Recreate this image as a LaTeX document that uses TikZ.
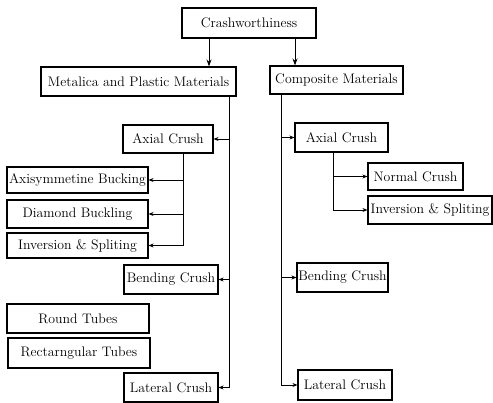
\documentclass[tikz,border=0pt]{standalone}
\usepackage{amsmath}
\usepackage{tikz}
\usetikzlibrary{arrows.meta}

\begin{document}
\begin{tikzpicture}[x = 1pt, y = -1pt, line width = 1.1pt,
                    box/.style = {draw, rectangle, inner sep = 0pt, font = \fontsize{13.8}{16}\selectfont},
                    arr/.style = {line width = 0.8pt, -{Stealth[length = 5pt, width = 4pt]}},
                    big/.style = {line width = 1pt, -{Stealth[length = 7pt, width = 5pt]}}]
  \useasboundingbox (0,0) rectangle (493,403);
  \node [box, minimum width = 134pt, minimum height = 30pt] (T0) at (249,23) {Crashworthiness};
  \node [box, minimum width = 195pt, minimum height = 29pt] (M0) at (138.5,81.5) {Metalica and Plastic Materials};
  \node [box, minimum width = 133pt, minimum height = 28pt] (C0) at (336.5,80) {Composite Materials};

  \node [box, minimum width = 90pt, minimum height = 28pt] (M1) at (168,139) {Axial Crush};
  \node [box, minimum width = 141pt, minimum height = 26pt] (M11) at (77.5,180) {Axisymmetine Bucking};
  \node [box, minimum width = 141pt, minimum height = 28pt] (M12) at (77.5,214) {Diamond Buckling};
  \node [box, minimum width = 141pt, minimum height = 25pt] (M13) at (77.5,245.5) {Inversion \& Spliting};
  \node [box, minimum width = 94pt, minimum height = 29pt] (M2) at (171,279.5) {Bending Crush};
  \node [box, minimum width = 142pt, minimum height = 29pt] (M21) at (78,318.5) {Round Tubes};
  \node [box, minimum width = 142pt, minimum height = 30pt] (M22) at (79,353) {Rectarngular Tubes};
  \node [box, minimum width = 94pt, minimum height = 29pt] (M3) at (171,387.5) {Lateral Crush};

  \node [box, minimum width = 93pt, minimum height = 29pt] (C1) at (341.5,137.5) {Axial Crush};
  \node [box, minimum width = 95pt, minimum height = 27pt] (C11) at (415.5,176.5) {Normal Crush};
  \node [box, minimum width = 124pt, minimum height = 28pt] (C12) at (430,210) {Inversion \& Spliting};
  \node [box, minimum width = 91pt, minimum height = 29pt] (C2) at (342.5,277.5) {Bending Crush};
  \node [box, minimum width = 94pt, minimum height = 30pt] (C3) at (345,385) {Lateral Crush};

  \coordinate (MT) at (229,0);
  \coordinate (MA) at (183,0);
  \coordinate (CT) at (281,0);
  \coordinate (CA) at (333,0);

  \draw [big] ([xshift = -40pt]T0.south) -- ([xshift = -40pt]T0.south |- M0.north);
  \draw [big] ([xshift = 46pt]T0.south) -- ([xshift = 46pt]T0.south |- C0.north);

  \draw [arr] (M0.south -| MT) |- (M3.east);
  \draw [arr] (MT |- M1.east) -- (M1.east);
  \draw [arr] (MT |- M2.east) -- (M2.east);
  \draw [arr] (M1.south -| MA) |- (M13.east);
  \draw [arr] (MA |- M11.east) -- (M11.east);
  \draw [arr] (MA |- M12.east) -- (M12.east);

  \draw [arr] (C0.south -| CT) |- (C3.west);
  \draw [arr] (CT |- C1.west) -- (C1.west);
  \draw [arr] (CT |- C2.west) -- (C2.west);
  \draw [arr] (C1.south -| CA) |- (C12.west);
  \draw [arr] (CA |- C11.west) -- (C11.west);
\end{tikzpicture}
\end{document}
